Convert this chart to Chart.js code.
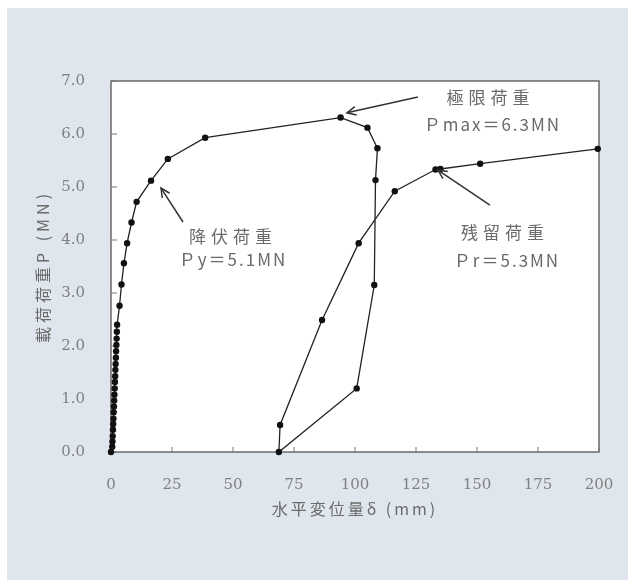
<!DOCTYPE html>
<html>
<head>
<meta charset="utf-8">
<script src="https://cdn.jsdelivr.net/npm/chart.js@4.4.1/dist/chart.umd.min.js"></script>
<style>
  html, body { margin: 0; padding: 0; background: #ffffff; }
  #panel { position: absolute; left: 7px; top: 8px; width: 621px; height: 572px; background: #dfe6ee; }
  #wrap { position: absolute; left: 0; top: 0; width: 628px; height: 582px; }
</style>
</head>
<body>
<div id="panel"></div>
<div id="wrap"><canvas id="c" width="628" height="582"></canvas></div>
<script>
// ---- data ----
const deltaValues = [0, 0.5, 0.6, 0.7, 0.8, 0.9, 1.0, 1.1, 1.2, 1.3, 1.4, 1.5, 1.6, 1.7, 1.8, 1.9, 2.0, 2.1, 2.2, 2.3, 2.4, 2.5,
  3.5, 4.3, 5.3, 6.6, 8.4, 10.5, 16.4, 23.3, 38.6, 94.1,
  105.1, 109.2, 108.4, 107.9, 100.7, 68.8,
  69.3, 86.5, 101.5, 116.3, 133.0, 135.0, 151.3, 199.5];
const loadValues = [0, 0.1, 0.2, 0.3, 0.42, 0.53, 0.63, 0.75, 0.86, 0.97, 1.08, 1.2, 1.32, 1.43, 1.55, 1.66, 1.78, 1.9, 2.02, 2.14, 2.27, 2.4,
  2.76, 3.16, 3.56, 3.94, 4.33, 4.72, 5.12, 5.53, 5.93, 6.31,
  6.12, 5.73, 5.13, 3.15, 1.20, 0.0,
  0.51, 2.49, 3.94, 4.92, 5.33, 5.34, 5.44, 5.72];
const xTickLabels = ['0', '25', '50', '75', '100', '125', '150', '175', '200'];
const yTickLabels = ['0.0', '1.0', '2.0', '3.0', '4.0', '5.0', '6.0', '7.0'];
const xTitle = '水平変位量δ (mm)';
const yTitle = '載荷荷重P (MN)';
const annotationLines = [
  ['極限荷重', 'Ｐmax＝6.3MN'],
  ['降伏荷重', 'Ｐy＝5.1MN'],
  ['残留荷重', 'Ｐr＝5.3MN']
];
// annotation anchors in data units: text centre of each line, arrow start and arrow tip
const annotationTextAt = [[[155.5, 6.68], [156.3, 6.17]], [[50.0, 4.06], [50.0, 3.64]], [[161.5, 4.15], [162.3, 3.62]]];
const annotationArrows = [[[125.8, 6.70], [96.7, 6.40]], [[29.5, 4.34], [20.5, 4.98]], [[155.3, 4.66], [134.0, 5.32]]];

const points = deltaValues.map((d, i) => ({ x: d, y: loadValues[i] }));
const SERIF = '"DejaVu Serif", "Liberation Serif", serif';
const CJK = '"Noto Sans CJK JP", "Noto Sans CJK SC", sans-serif';

const decorPlugin = {
  id: 'decor',
  beforeDatasetsDraw(chart) {
    const { ctx, chartArea: a, scales: { x, y } } = chart;
    ctx.save();
    ctx.fillStyle = '#ffffff';
    ctx.fillRect(a.left, a.top, a.right - a.left, a.bottom - a.top);
    ctx.strokeStyle = '#555';
    ctx.lineWidth = 1.3;
    ctx.strokeRect(a.left, a.top, a.right - a.left, a.bottom - a.top);
    ctx.lineWidth = 1;
    ctx.strokeStyle = '#777';
    x.ticks.forEach(t => {
      const px = x.getPixelForValue(t.value);
      ctx.beginPath(); ctx.moveTo(px, a.bottom); ctx.lineTo(px, a.bottom - 5); ctx.stroke();
    });
    y.ticks.forEach(t => {
      const py = y.getPixelForValue(t.value);
      ctx.beginPath(); ctx.moveTo(a.left, py); ctx.lineTo(a.left + 6, py); ctx.stroke();
    });
    ctx.restore();
  },
  afterDraw(chart) {
    const { ctx, chartArea: a, scales: { x, y } } = chart;
    ctx.save();
    // arrows
    ctx.strokeStyle = '#333';
    ctx.lineWidth = 1.5;
    annotationArrows.forEach(([s, e]) => {
      const x0 = x.getPixelForValue(s[0]), y0 = y.getPixelForValue(s[1]);
      const x1 = x.getPixelForValue(e[0]), y1 = y.getPixelForValue(e[1]);
      ctx.beginPath(); ctx.moveTo(x0, y0); ctx.lineTo(x1, y1); ctx.stroke();
      const ang = Math.atan2(y1 - y0, x1 - x0);
      const L = 10, w = 0.45;
      ctx.beginPath();
      ctx.moveTo(x1 - L * Math.cos(ang - w), y1 - L * Math.sin(ang - w));
      ctx.lineTo(x1, y1);
      ctx.lineTo(x1 - L * Math.cos(ang + w), y1 - L * Math.sin(ang + w));
      ctx.stroke();
    });
    // annotation texts
    ctx.fillStyle = '#6a6a6a';
    ctx.textAlign = 'center';
    ctx.textBaseline = 'middle';
    ctx.font = '17px ' + CJK;
    annotationLines.forEach((lines, i) => {
      lines.forEach((txt, j) => {
        const p = annotationTextAt[i][j];
        ctx.letterSpacing = j === 0 ? '5px' : '2px';
        ctx.fillText(txt, x.getPixelForValue(p[0]), y.getPixelForValue(p[1]));
      });
    });
    // axis titles
    ctx.letterSpacing = '3px';
    ctx.font = '16px ' + CJK;
    ctx.fillText(xTitle, (a.left + a.right) / 2, a.bottom + 57);
    ctx.translate(a.left - 68, (a.top + a.bottom) / 2);
    ctx.rotate(-Math.PI / 2);
    ctx.letterSpacing = '4px';
    ctx.fillText(yTitle, 0, 0);
    ctx.restore();
    ctx.letterSpacing = '0px';
  }
};

new Chart(document.getElementById('c'), {
  type: 'scatter',
  data: {
    datasets: [{
      data: points,
      showLine: true,
      borderColor: '#222',
      borderWidth: 1.3,
      pointRadius: 3.2,
      pointBackgroundColor: '#111',
      pointBorderColor: '#111',
      pointBorderWidth: 0,
      tension: 0,
      clip: false
    }]
  },
  options: {
    responsive: false,
    animation: false,
    layout: { padding: { left: 0, right: 29, top: 81, bottom: 0 } },
    plugins: { legend: { display: false }, tooltip: { enabled: false } },
    scales: {
      x: {
        type: 'linear', min: 0, max: 200,
        afterFit: s => { s.height = 130; s.paddingLeft = 0; s.paddingRight = 0; },
        ticks: {
          stepSize: 25, padding: 24, color: '#808080',
          font: { family: SERIF, size: 15 },
          callback: (v, i) => xTickLabels[i]
        },
        grid: { display: false, drawTicks: false },
        border: { display: false },
        title: { display: false }
      },
      y: {
        type: 'linear', min: 0, max: 7,
        afterFit: s => { s.width = 111; s.paddingTop = 0; s.paddingBottom = 0; },
        ticks: {
          stepSize: 1, padding: 26, color: '#808080',
          font: { family: SERIF, size: 15 },
          callback: (v, i) => yTickLabels[i]
        },
        grid: { display: false, drawTicks: false },
        border: { display: false },
        title: { display: false }
      }
    }
  },
  plugins: [decorPlugin]
});
</script>
</body>
</html>
